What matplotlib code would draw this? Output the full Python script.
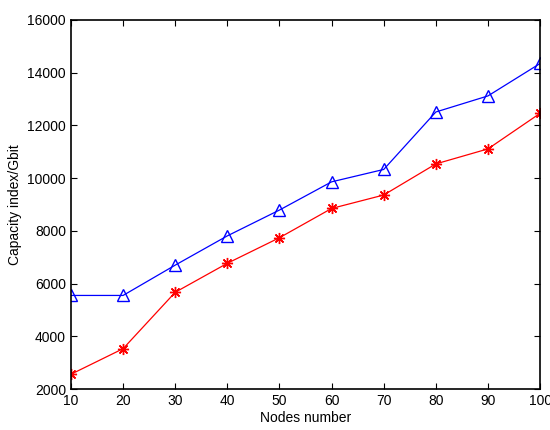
import matplotlib.pyplot as plt

# data
nodes = [10, 20, 30, 40, 50, 60, 70, 80, 90, 100]
blue_vals = [5550, 5550, 6700, 7810, 8790, 9860, 10330, 12510, 13120, 14350]
red_vals = [2560, 3530, 5670, 6770, 7740, 8850, 9360, 10540, 11110, 12460]

plt.rcParams['font.family'] = ['Liberation Sans', 'DejaVu Sans']

fig = plt.figure(figsize=(5.5, 4.3), dpi=100)
ax = fig.add_axes([0.129, 0.0953, 0.853, 0.8582])

ax.plot(nodes, blue_vals, color='blue', marker='^', markersize=9,
        markerfacecolor='none', markeredgecolor='blue', linewidth=0.9)
ax.plot(nodes, red_vals, color='red', marker=(8, 2, 0), markersize=8,
        markeredgewidth=1.0, markeredgecolor='red', linewidth=0.9)

ax.set_xlim(10, 100)
ax.set_ylim(2000, 16000)
ax.set_xticks(range(10, 101, 10))
ax.set_yticks(range(2000, 16001, 2000))
ax.tick_params(direction='in', top=True, right=True, labelsize=10, length=4)
for s in ax.spines.values():
    s.set_linewidth(1.2)

ax.set_xlabel('Nodes number', fontsize=10, labelpad=2)
ax.set_ylabel('Capacity index/Gbit', fontsize=10, labelpad=4)

fig.savefig('out.png', dpi=100)
